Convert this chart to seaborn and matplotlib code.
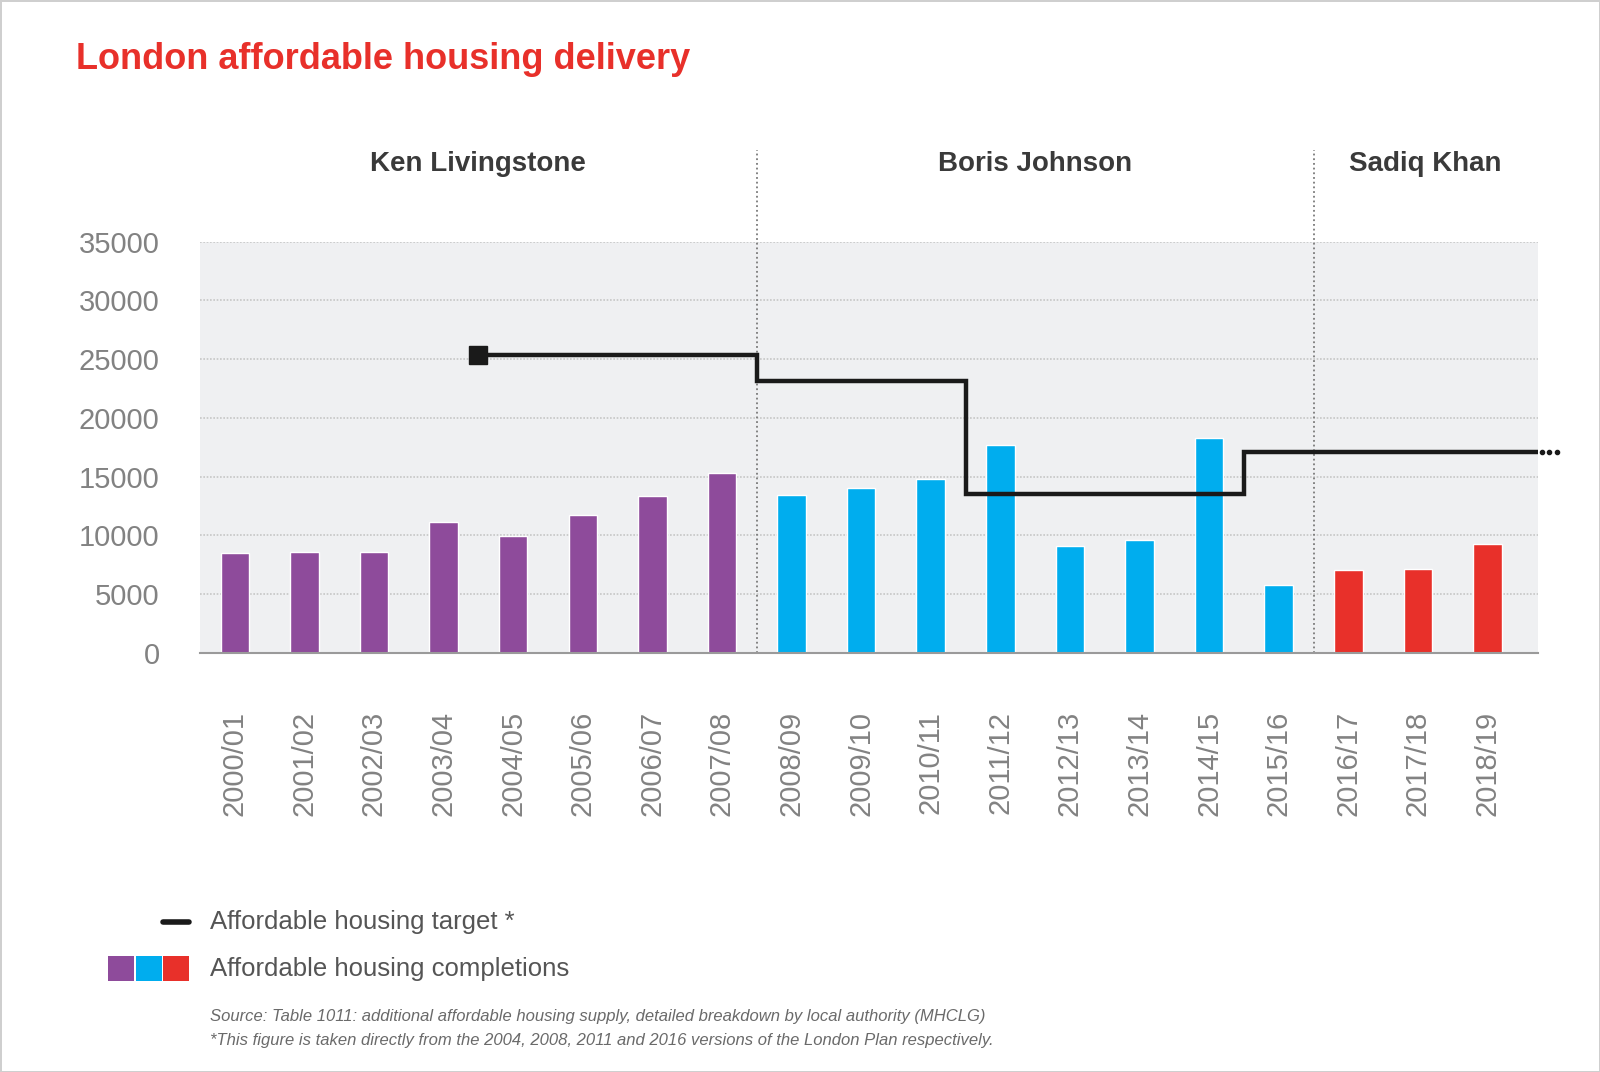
import pandas as pd
import matplotlib
matplotlib.use('Agg')
import matplotlib.pyplot as plt
import matplotlib.transforms as mtransforms
from matplotlib.patches import Rectangle
from matplotlib.lines import Line2D
import seaborn as sns

# Financial years and affordable housing completions
years = ['2000/01', '2001/02', '2002/03', '2003/04', '2004/05', '2005/06', '2006/07',
         '2007/08', '2008/09', '2009/10', '2010/11', '2011/12', '2012/13', '2013/14',
         '2014/15', '2015/16', '2016/17', '2017/18', '2018/19']
completions = [8460, 8580, 8580, 11100, 9940, 11700, 13350, 15330, 13420, 14040,
               14800, 17700, 9050, 9560, 18290, 5810, 7030, 7170, 9300]
mayors = ['Ken Livingstone'] * 8 + ['Boris Johnson'] * 8 + ['Sadiq Khan'] * 3
mayor_names = ['Ken Livingstone', 'Boris Johnson', 'Sadiq Khan']
mayor_colours = ['#8e4b9b', '#00adee', '#e8302a']

# London Plan targets: first year each applies, and the annual target
target_start = ['2004/05', '2008/09', '2011/12', '2015/16']
target_values = [25350, 23090, 13520, 17100]

y_ticks = [0, 5000, 10000, 15000, 20000, 25000, 30000, 35000]

sns.set_style('white')
plt.rcParams['font.family'] = ['Liberation Sans', 'DejaVu Sans']

fig = plt.figure(figsize=(16, 10.72), dpi=100)
fig.patch.set_facecolor('white')
fig.patch.set_edgecolor('#cfcfcf')
fig.patch.set_linewidth(2)
ax = fig.add_axes([0.125, 0.391, 0.836, 0.3837])
ax.set_facecolor('#eff0f2')

df = pd.DataFrame({'year': years, 'completions': completions, 'mayor': mayors})
sns.barplot(data=df, x='year', y='completions', hue='mayor', hue_order=mayor_names,
            palette=mayor_colours, dodge=False, width=0.41, saturation=1,
            legend=False, ax=ax, zorder=3)

ax.set_xlim(-0.5, 18.72)
ax.set_ylim(0, 35000)
x_end = ax.get_xlim()[1]

# target step line
pos = {y: i for i, y in enumerate(years)}
step_x = [pos[s] - 0.5 for s in target_start] + [x_end]
step_y = target_values + [target_values[-1]]
ax.plot(step_x, step_y, drawstyle='steps-post', color='#1a1a1a', lw=3.2,
        solid_joinstyle='miter', zorder=5)
ax.plot(step_x[0], step_y[0], marker='s', ms=13, color='#1a1a1a', zorder=6)
ax.plot([x_end + 0.06, x_end + 0.17, x_end + 0.28], [target_values[-1]] * 3,
        ls='none', marker='o', ms=3, color='#1a1a1a', clip_on=False, zorder=6)

# mayor dividers and names
trans = mtransforms.blended_transform_factory(ax.transData, ax.transAxes)
bounds = [-0.5]
for i in range(1, len(mayors)):
    if mayors[i] != mayors[i - 1]:
        bounds.append(i - 0.5)
        ax.plot([i - 0.5, i - 0.5], [0, 1.222], transform=trans, color='#7a7a7a',
                lw=1.3, ls=(0, (1, 1.6)), clip_on=False, zorder=4)
bounds.append(x_end)
for k, name in enumerate(mayor_names):
    ax.text((bounds[k] + bounds[k + 1]) / 2, 1.188, name, transform=trans,
            ha='center', va='center', fontsize=20, fontweight='bold', color='#3a3a3a')

# axes styling
ax.set_yticks(y_ticks)
ax.set_yticklabels([str(v) for v in y_ticks])
ax.yaxis.grid(True, ls=(0, (1, 1)), color='#c6c6c6', lw=1.2)
ax.set_axisbelow(True)
for side in ['top', 'right', 'left']:
    ax.spines[side].set_visible(False)
ax.spines['bottom'].set_color('#9a9a9a')
ax.spines['bottom'].set_linewidth(1.5)
ax.spines['bottom'].set_zorder(4)
ax.tick_params(axis='y', length=0, pad=29, labelsize=21, labelcolor='#828282')
ax.tick_params(axis='x', length=0, pad=42, labelsize=21, labelcolor='#828282',
               labelrotation=90)
ax.set_xlabel('')
ax.set_ylabel('')

# title
fig.text(0.0478, 0.9353, 'London affordable housing delivery', fontsize=26,
         fontweight='bold', color='#e8302a', va='baseline')

# legend
fig.add_artist(Line2D([163 / 1600, 189 / 1600], [1 - 922 / 1072] * 2, color='#1a1a1a', lw=4))
fig.text(210 / 1600, 1 - 922 / 1072, 'Affordable housing target *', fontsize=18.5,
         color='#555555', va='center')
for k, c in enumerate(mayor_colours):
    fig.add_artist(Rectangle(((108 + 27.5 * k) / 1600, 1 - 981 / 1072), 26 / 1600, 25 / 1072,
                             facecolor=c, edgecolor='none'))
fig.text(210 / 1600, 1 - 969 / 1072, 'Affordable housing completions', fontsize=18.5,
         color='#555555', va='center')

fig.text(210 / 1600, 1 - 1017 / 1072,
         'Source: Table 1011: additional affordable housing supply, detailed breakdown by local authority (MHCLG)',
         fontsize=12, style='italic', color='#6a6a6a', va='center')
fig.text(210 / 1600, 1 - 1040 / 1072,
         '*This figure is taken directly from the 2004, 2008, 2011 and 2016 versions of the London Plan respectively.',
         fontsize=12, style='italic', color='#6a6a6a', va='center')

fig.savefig('out.png', dpi=100, facecolor=fig.get_facecolor(), edgecolor=fig.get_edgecolor())
